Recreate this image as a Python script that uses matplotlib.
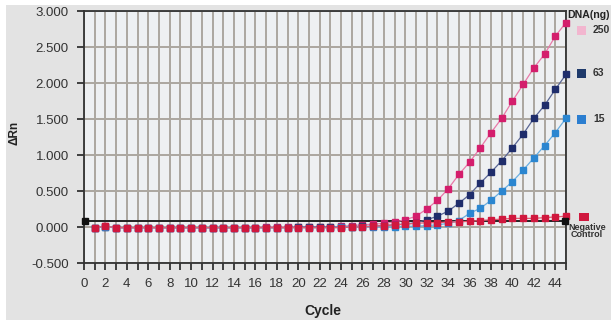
import matplotlib
matplotlib.use("Agg")
import matplotlib.pyplot as plt
from matplotlib.patches import Rectangle

plt.rcParams['font.family'] = ['Liberation Sans', 'DejaVu Sans']

cycles = list(range(1, 46))

# Amplification curves (delta Rn per cycle)
rn_250 = [-0.01, 0.01, -0.01, -0.01, -0.01, -0.01, -0.01, -0.01, -0.01, -0.01,
          -0.01, -0.01, -0.01, -0.01, -0.01, -0.01, 0.0, 0.0, 0.0, 0.0,
          0.0, 0.0, 0.0, 0.01, 0.02, 0.03, 0.04, 0.05, 0.07, 0.10,
          0.15, 0.25, 0.37, 0.53, 0.73, 0.90, 1.10, 1.31, 1.51, 1.75,
          1.98, 2.21, 2.40, 2.65, 2.84]
rn_63 = [-0.01, 0.0, -0.01, -0.01, -0.01, -0.01, -0.01, -0.01, -0.01, -0.01,
         -0.01, -0.01, -0.01, -0.01, -0.01, -0.01, -0.01, -0.01, -0.01, 0.0,
         0.0, 0.0, 0.0, 0.0, 0.0, 0.01, 0.01, 0.02, 0.03, 0.04,
         0.06, 0.10, 0.15, 0.22, 0.33, 0.45, 0.61, 0.76, 0.92, 1.10,
         1.29, 1.51, 1.69, 1.91, 2.12]
rn_15 = [-0.01, 0.0, -0.01, -0.01, -0.01, -0.01, -0.01, -0.01, -0.01, -0.01,
         -0.01, -0.01, -0.01, -0.01, -0.01, -0.01, -0.01, -0.01, -0.01, -0.01,
         -0.01, -0.01, -0.01, 0.0, 0.0, 0.0, 0.0, 0.0, 0.0, 0.01,
         0.01, 0.02, 0.03, 0.05, 0.09, 0.19, 0.26, 0.37, 0.50, 0.63,
         0.79, 0.96, 1.13, 1.31, 1.51]
rn_neg = [-0.01, 0.01, -0.01, -0.01, -0.01, -0.01, -0.01, -0.01, -0.01, -0.01,
          -0.01, -0.01, -0.01, -0.01, -0.01, -0.01, -0.01, -0.01, -0.01, -0.01,
          -0.01, -0.01, -0.01, -0.01, 0.0, 0.0, 0.01, 0.02, 0.03, 0.04,
          0.05, 0.06, 0.06, 0.07, 0.07, 0.08, 0.09, 0.10, 0.11, 0.12,
          0.12, 0.12, 0.13, 0.14, 0.15]
threshold = 0.085

series_labels = ['250', '63', '15']
series_values = [rn_250, rn_63, rn_15]
marker_colors = ['#d41e6c', '#1f2d6b', '#2b86d0']
line_colors = ['#e87aa8', '#5a6694', '#6aaee0']
legend_swatches = ['#f2b6cf', '#1f3a6b', '#2b7ed0']
neg_color = '#d0183e'
neg_line = '#e05a70'

xtick_labels = [str(c) if c % 2 == 0 and c < 45 else '' for c in range(0, 46)]
yticks = [-0.5, 0.0, 0.5, 1.0, 1.5, 2.0, 2.5, 3.0]
ytick_labels = ['-0.500', '0.000', '0.500', '1.000', '1.500', '2.000', '2.500', '3.000']

W, H = 611, 320
fig = plt.figure(figsize=(W / 100, H / 100), dpi=100, facecolor='white')
fig.patches.append(Rectangle((6 / W, 0), 1 - 6 / W, 1 - 5 / H,
                             transform=fig.transFigure, facecolor='#e3e3e3',
                             edgecolor='none', zorder=-10))

ax = fig.add_axes([84 / W, 1 - 263 / H, (566 - 84) / W, (263 - 11) / H])
ax.set_facecolor('#eef0f2')
ax.set_xlim(0, 45)
ax.set_ylim(-0.5, 3.0)
ax.set_xticks(range(0, 46))
ax.set_xticklabels(xtick_labels)
ax.set_yticks(yticks)
ax.set_yticklabels(ytick_labels)

# grid: every cycle vertically, every 0.5 horizontally
ax.set_axisbelow(True)
ax.grid(True, color='#aca79f', lw=1.4)

# threshold line
ax.plot([0, 45], [threshold, threshold], color='#222222', lw=1.4, zorder=3,
        solid_capstyle='butt')
ax.plot([0.1, 44.9], [threshold, threshold], ls='none', marker='s',
        markersize=4, color='#111111', zorder=6, clip_on=False)

for vals, mc, lc in zip(series_values, marker_colors, line_colors):
    ax.plot(cycles, vals, color=lc, lw=0.9, zorder=4)
    ax.plot(cycles, vals, ls='none', marker='s', markersize=4.2, color=mc,
            zorder=4, clip_on=False)
ax.plot(cycles, rn_neg, color=neg_line, lw=0.9, zorder=5)
ax.plot(cycles, rn_neg, ls='none', marker='s', markersize=4.2, color=neg_color,
        zorder=5, clip_on=False)

ax.tick_params(axis='both', direction='out', length=5, width=1.2,
               color='#222222', labelsize=9.5, labelcolor='#333333')
ax.tick_params(axis='x', pad=6)
ax.tick_params(axis='y', pad=6)
for s in ax.spines.values():
    s.set_color('#333333')
    s.set_linewidth(1.3)

fig.text(14 / W, 1 - 133 / H, 'ΔRn', rotation=90, ha='center', va='center',
         fontsize=8.5, fontweight='bold', color='#222222')
fig.text(323 / W, 1 - 311 / H, 'Cycle', ha='center', va='center',
         fontsize=10, fontweight='bold', color='#222222')

# legend drawn as figure text
fig.text(567 / W, 1 - 15 / H, 'DNA(ng)', ha='left', va='center', fontsize=7.6,
         fontweight='bold', color='#222222')
legend_y = [30, 73, 119]
for lab, sw, yy in zip(series_labels, legend_swatches, legend_y):
    fig.patches.append(Rectangle((577 / W, 1 - (yy + 5) / H), 9 / W, 9 / H,
                                 transform=fig.transFigure, facecolor=sw,
                                 edgecolor='none'))
    fig.text(593 / W, 1 - yy / H, lab, ha='left', va='center', fontsize=7.5,
             fontweight='bold', color='#333333')
fig.patches.append(Rectangle((579 / W, 1 - 221 / H), 10 / W, 8 / H,
                             transform=fig.transFigure, facecolor=neg_color,
                             edgecolor='none'))
fig.text(587 / W, 1 - 231 / H, 'Negative\nControl', ha='center', va='center',
         fontsize=6.5, fontweight='bold', color='#333333', linespacing=0.85)

fig.savefig('out.png', dpi=100, facecolor=fig.get_facecolor())
